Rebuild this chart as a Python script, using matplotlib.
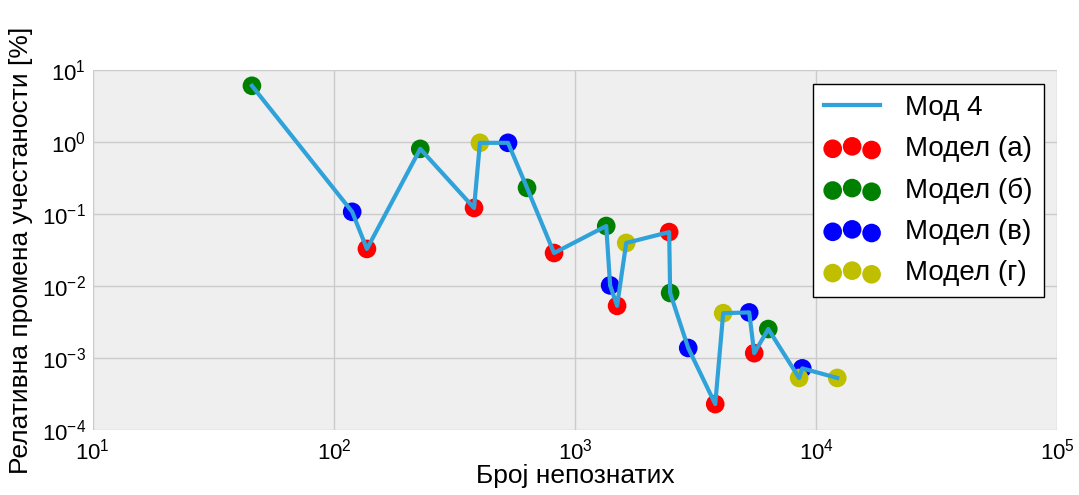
import numpy as np
import matplotlib
matplotlib.use('Agg')
import matplotlib.pyplot as plt

plt.rcParams['font.family'] = ['Liberation Sans', 'DejaVu Sans']
plt.rcParams['mathtext.default'] = 'regular'
plt.rcParams['axes.unicode_minus'] = False

#Broj nepoznatih / relativna promena za svaki model
xa = [137, 381, 818, 1493, 2455, 3811, 5530]
ya = [0.0327, 0.121, 0.0287, 0.0053, 0.056, 0.00023, 0.00117]

xb = [45.7, 228, 632, 1346, 2478, 6324]
yb = [6.0, 0.80, 0.23, 0.068, 0.0080, 0.00253]

xc = [119, 527, 1397, 2945, 5272, 8750]
yc = [0.107, 0.97, 0.0102, 0.00138, 0.0043, 0.00072]

xd = [403, 1629, 4112, 8490, 12220]
yd = [0.97, 0.0396, 0.0042, 0.00053, 0.00053]

labels = ['Модел (а)', 'Модел (б)', 'Модел (в)', 'Модел (г)']
colors = ['r', 'g', 'b', 'y']

#Mod 4 ide kroz sve tacke po redu broja nepoznatih
allx = np.concatenate([xa, xb, xc, xd])
ally = np.concatenate([ya, yb, yc, yd])
order = np.argsort(allx)

fig = plt.figure(figsize=(10.79, 4.95), dpi=100)
ax = fig.add_axes([0.086, 0.131, 0.894, 0.728])
ax.set_facecolor('#efefef')

ax.plot(allx[order], ally[order], color='#30a2da', lw=3, label='Мод 4', zorder=3)
for x, y, c, l in zip([xa, xb, xc, xd], [ya, yb, yc, yd], colors, labels):
    ax.scatter(x, y, s=180, color=c, edgecolors='none', label=l, zorder=2)

ax.set_xscale('log')
ax.set_yscale('log')
ax.set_xlim(1e1, 1e5)
ax.set_ylim(1e-4, 1e1)
ax.grid(True, which='major', color='#cbcbcb', lw=1)
ax.set_axisbelow(True)
for s in ax.spines.values():
    s.set_visible(False)
ax.tick_params(which='both', length=0, labelsize=16)
ax.tick_params(axis='x', pad=6)
ax.tick_params(axis='y', pad=5)
ax.minorticks_off()

ax.set_xlabel('Број непознатих', fontsize=19, labelpad=0)
ax.set_ylabel('Релативна промена учестаности [%]', fontsize=19, labelpad=6)

leg = ax.legend(loc='upper right', fontsize=20, scatterpoints=3,
                scatteryoffsets=[0.375, 0.5, 0.3125], handlelength=2.0,
                handletextpad=0.9, borderaxespad=0.5, fancybox=False,
                framealpha=1, labelspacing=0.55)
leg.get_frame().set_edgecolor('black')
leg.get_frame().set_linewidth(1)

fig.savefig('out.png', dpi=100)
